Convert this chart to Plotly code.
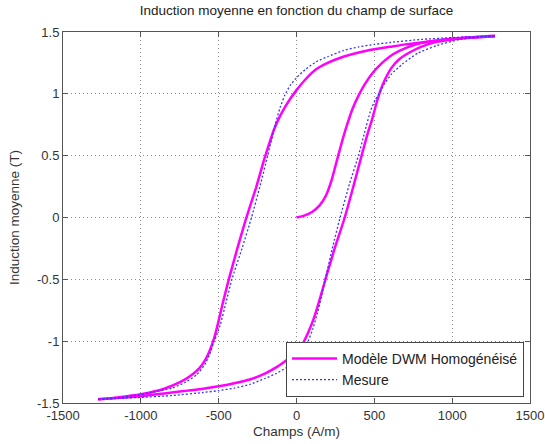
import plotly.graph_objects as go

# Model (magenta) - initial magnetisation curve
model_init_H = [0, 50, 100, 150, 190, 225, 255, 285, 320, 360, 400, 440, 490, 550, 620, 700, 800, 950, 1100, 1275]
model_init_B = [0.0, 0.015, 0.045, 0.10, 0.18, 0.30, 0.44, 0.58, 0.73, 0.88, 0.99, 1.08, 1.17, 1.25, 1.32, 1.37, 1.41, 1.44, 1.455, 1.465]

# Model - descending branch
model_desc_H = [1275, 1100, 1000, 900, 800, 700, 600, 500, 400, 300, 200, 128, 60, 0, -40, -75, -110, -145, -180, -210, -260, -322, -380, -435, -475, -505, -530, -555, -585, -625, -680, -745, -850, -1000, -1150, -1275]
model_desc_B = [1.465, 1.452, 1.443, 1.43, 1.415, 1.40, 1.38, 1.36, 1.335, 1.30, 1.25, 1.20, 1.12, 1.03, 0.96, 0.89, 0.81, 0.71, 0.58, 0.46, 0.24, 0.0, -0.25, -0.5, -0.7, -0.86, -0.98, -1.07, -1.15, -1.22, -1.28, -1.33, -1.385, -1.43, -1.455, -1.47]

# Model - ascending branch
model_asc_H = [-1275, -1100, -1000, -900, -800, -700, -600, -500, -400, -300, -200, -128, -60, 0, 40, 75, 110, 140, 170, 200, 250, 310, 365, 416, 455, 487, 515, 540, 570, 610, 660, 720, 800, 900, 1000, 1100, 1275]
model_asc_B = [-1.47, -1.455, -1.445, -1.43, -1.415, -1.40, -1.385, -1.365, -1.34, -1.31, -1.26, -1.21, -1.15, -1.09, -1.02, -0.93, -0.82, -0.70, -0.57, -0.44, -0.23, 0.0, 0.25, 0.49, 0.67, 0.8, 0.93, 1.03, 1.12, 1.21, 1.28, 1.33, 1.38, 1.42, 1.44, 1.455, 1.47]

# Measurement (blue dotted) - descending branch
meas_desc_H = [1275, 1100, 1000, 800, 600, 500, 400, 300, 200, 128, 60, 0, -40, -75, -105, -135, -160, -185, -235, -289, -350, -415, -455, -488, -512, -530, -555, -590, -640, -710, -800, -950, -1100, -1275]
meas_desc_B = [1.47, 1.46, 1.455, 1.44, 1.415, 1.40, 1.38, 1.35, 1.30, 1.26, 1.20, 1.13, 1.07, 0.99, 0.89, 0.76, 0.63, 0.50, 0.25, 0.0, -0.25, -0.5, -0.70, -0.86, -0.95, -1.0, -1.1, -1.19, -1.27, -1.33, -1.38, -1.42, -1.45, -1.47]

# Measurement - ascending branch
meas_asc_H = [-1275, -1100, -1000, -800, -600, -500, -400, -300, -200, -128, -60, 0, 40, 75, 105, 135, 160, 185, 230, 280, 340, 400, 440, 475, 505, 530, 565, 610, 680, 780, 900, 1050, 1275]
meas_asc_B = [-1.47, -1.46, -1.455, -1.44, -1.415, -1.40, -1.38, -1.35, -1.30, -1.26, -1.21, -1.15, -1.08, -1.0, -0.90, -0.77, -0.64, -0.50, -0.25, 0.0, 0.27, 0.51, 0.70, 0.86, 0.95, 1.0, 1.08, 1.16, 1.24, 1.33, 1.39, 1.44, 1.47]

x_ticks = [-1500, -1000, -500, 0, 500, 1000, 1500]
y_ticks = [-1.5, -1, -0.5, 0, 0.5, 1, 1.5]
y_tick_labels = ["-1.5", "-1", "-0.5", "0", "0.5", "1", "1.5"]

MAG = "#ff00ff"
BLUE = "#3535ff"
FONT = "Liberation Sans, Arial, sans-serif"
TXT = "#333333"

fig = go.Figure()
mag_line = dict(color=MAG, width=2.5, shape="spline", smoothing=0.5)
blue_line = dict(color=BLUE, width=1.3, dash="2px,2px", shape="spline", smoothing=0.5)

fig.add_trace(go.Scatter(x=model_desc_H, y=model_desc_B, mode="lines", line=mag_line,
                         name="Modèle DWM Homogénéisé", legendgroup="m", showlegend=True))
fig.add_trace(go.Scatter(x=model_asc_H, y=model_asc_B, mode="lines", line=mag_line,
                         legendgroup="m", showlegend=False))
fig.add_trace(go.Scatter(x=model_init_H, y=model_init_B, mode="lines", line=mag_line,
                         legendgroup="m", showlegend=False))
fig.add_trace(go.Scatter(x=meas_desc_H, y=meas_desc_B, mode="lines", line=blue_line,
                         name="Mesure", legendgroup="b", showlegend=True))
fig.add_trace(go.Scatter(x=meas_asc_H, y=meas_asc_B, mode="lines", line=blue_line,
                         legendgroup="b", showlegend=False))

axis_common = dict(
    showline=True, linecolor="#555555", linewidth=1, mirror="ticks",
    ticks="inside", ticklen=5, tickcolor="#555555", automargin=False,
    showgrid=True, gridcolor="#8c8c8c", griddash="1px,3px", gridwidth=1,
    zeroline=False, tickfont=dict(family=FONT, size=13, color=TXT),
)

fig.update_xaxes(range=[-1500, 1500], tickvals=x_ticks, ticktext=[str(v) for v in x_ticks],
                 ticklabelstandoff=0,
                 title=dict(text="Champs (A/m)", font=dict(family=FONT, size=13.5, color=TXT), standoff=4),
                 **axis_common)
fig.update_yaxes(range=[-1.5, 1.5], tickvals=y_ticks, ticktext=y_tick_labels,
                 title=dict(text="Induction moyenne (T)", font=dict(family=FONT, size=13.5, color=TXT), standoff=14),
                 **axis_common)

fig.update_layout(
    width=545, height=444,
    margin=dict(l=63, r=15, t=32, b=41, autoexpand=False),
    paper_bgcolor="white", plot_bgcolor="white",
    title=dict(text="Induction moyenne en fonction du champ de surface",
               font=dict(family=FONT, size=13.5, color="#222222"),
               x=(63 + 530) / 2 / 545, xanchor="center", y=1, yanchor="top", pad=dict(t=6)),
    legend=dict(x=0.4775, y=0.165, xanchor="left", yanchor="top",
                bgcolor="white", bordercolor="#444444", borderwidth=1,
                font=dict(family=FONT, size=14, color="#222222"),
                itemwidth=45, tracegroupgap=0),
    font=dict(family=FONT),
)

fig.write_html("out.html", config={"displayModeBar": False},
               post_script="document.body.style.margin='0px';document.body.style.overflow='hidden';")
